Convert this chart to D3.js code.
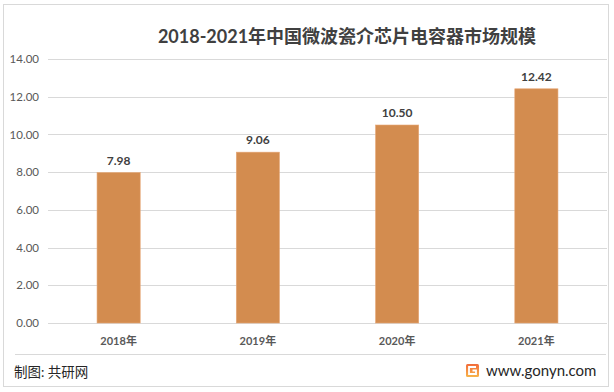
<!DOCTYPE html>
<html><head><meta charset="utf-8">
<script src="https://cdn.jsdelivr.net/npm/d3@7"></script>
<style>
html,body{margin:0;padding:0;background:#fff;}
svg{display:block;}
text{font-family:"Lato","Noto Sans CJK SC",sans-serif;}
</style></head>
<body><svg id="c" width="614" height="392"></svg>
<script>
const title = "2018-2021年中国微波瓷介芯片电容器市场规模";
const categories = ["2018年","2019年","2020年","2021年"];
const values = [7.98, 9.06, 10.50, 12.42];
const yTicks = [0,2,4,6,8,10,12,14];
const sourceText = "制图: 共研网";
const siteText = "www.gonyn.com";

(function(){
const svg = d3.select("#c");
svg.append("rect").attr("x",3.5).attr("y",4.5).attr("width",605).attr("height",382)
  .attr("fill","#fff").attr("stroke","#d9d9d9").attr("stroke-width",1);

const pL = 49, pR = 606, pT = 59, pB = 323;
const x = d3.scaleBand().domain(categories).range([pL, pR]).paddingInner(0.69).paddingOuter(0.345);
const y = d3.scaleLinear().domain([0,14]).range([pB, pT]);

// gridlines
svg.append("g").selectAll("line").data(yTicks).join("line")
  .attr("x1",pL-1).attr("x2",607)
  .attr("y1",d=>Math.round(y(d))+0.5).attr("y2",d=>Math.round(y(d))+0.5)
  .attr("stroke","#d9d9d9").attr("stroke-width",1);

// y axis labels
const yAxis = d3.axisLeft(y).tickValues(yTicks).tickFormat(d3.format(".2f")).tickSize(0).tickPadding(0);
const ya = svg.append("g").attr("transform",`translate(39,0)`).call(yAxis);
ya.select(".domain").remove();
ya.selectAll("text").attr("font-size",11.5).attr("fill","#595959").attr("font-family","Lato, 'Noto Sans CJK SC', sans-serif");

// bars
svg.append("g").selectAll("rect").data(values).join("rect")
  .attr("x",(d,i)=>x(categories[i]))
  .attr("width",x.bandwidth())
  .attr("y",d=>y(d)).attr("height",d=>pB-y(d))
  .attr("fill","#D38C4F").attr("stroke","#E6A877").attr("stroke-width",0.6);

// value labels
svg.append("g").selectAll("text").data(values).join("text")
  .attr("x",(d,i)=>x(categories[i])+x.bandwidth()/2)
  .attr("y",d=>y(d)-8)
  .attr("text-anchor","middle").attr("font-size",12).attr("font-weight","bold")
  .attr("fill","#404040").text(d=>d3.format(".2f")(d));

// x axis labels
const xAxis = d3.axisBottom(x).tickSize(0).tickPadding(0);
const xa = svg.append("g").attr("transform",`translate(0,${pB+14})`).call(xAxis);
xa.select(".domain").remove();
xa.selectAll("text").attr("font-size",11).attr("font-weight","bold").attr("fill","#595959")
  .attr("font-family","Lato, 'Noto Sans CJK SC', sans-serif");

// title
svg.append("text").attr("x",347).attr("y",43).attr("text-anchor","middle")
  .attr("font-size",18).attr("font-weight","bold").attr("fill","#404040")
  .attr("font-family","'Noto Sans CJK SC', sans-serif").text(title);

// footer separator
svg.append("line").attr("x1",15).attr("x2",606).attr("y1",354.5).attr("y2",354.5)
  .attr("stroke","#d9d9d9").attr("stroke-width",1);

svg.append("text").attr("x",14).attr("y",377).attr("font-size",13.5).attr("fill","#262626")
  .attr("font-family","'Noto Sans CJK SC', sans-serif").text(sourceText);

// logo
const defs = svg.append("defs");
const lg = defs.append("linearGradient").attr("id","lg").attr("x1","0").attr("y1","0").attr("x2","0").attr("y2","1");
lg.append("stop").attr("offset","0").attr("stop-color","#F26B3A");
lg.append("stop").attr("offset","1").attr("stop-color","#F8B44A");
svg.append("rect").attr("x",466).attr("y",364).attr("width",13).attr("height",13).attr("rx",1.5).attr("fill","url(#lg)");
svg.append("path").attr("d","M476,367 H469 V374 H476 V370.5 H472.5")
  .attr("fill","none").attr("stroke","#fff").attr("stroke-width",1.8);

svg.append("text").attr("x",486).attr("y",376).attr("font-size",15).attr("fill","#262626")
  .attr("font-family","'Open Sans', 'Noto Sans', sans-serif").text(siteText);
})();
</script></body></html>
